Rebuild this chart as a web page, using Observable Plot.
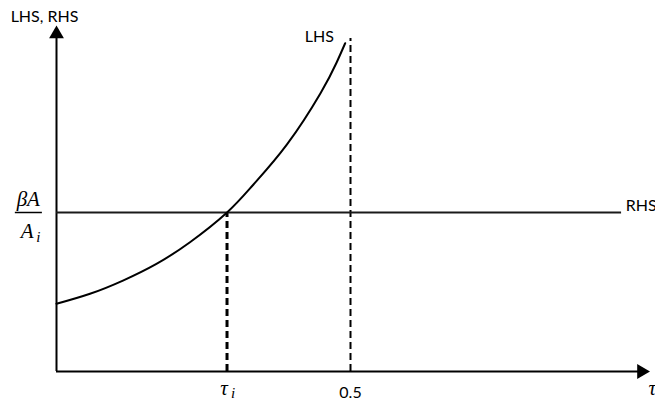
<!DOCTYPE html>
<html>
<head>
<meta charset="utf-8">
<script src="https://cdn.jsdelivr.net/npm/d3@7"></script>
<script src="https://cdn.jsdelivr.net/npm/@observablehq/plot@0.6"></script>
<style>
  html, body { margin: 0; padding: 0; background: #fff; overflow: hidden; }
</style>
</head>
<body>
<div id="chart"></div>
<script>
// LHS curve (tax rate τ on x, value on y); RHS is the constant βA/A_i
const lhsTau = [0, 0.057, 0.113, 0.170, 0.227, 0.29, 0.335, 0.392, 0.449, 0.476, 0.491];
const lhsValue = [0.426, 0.489, 0.572, 0.677, 0.813, 1.0, 1.176, 1.428, 1.750, 1.940, 2.065];
const rhsLevel = 1;
const rhsEnd = 0.961;
const tauI = 0.29;
const tauMax = 0.5;
const xAxisEnd = 1.005;
const yAxisTop = 2.16;
const maxLineTop = 2.094;

const tickLabels = ["τ", "0.5"];
const tickSubscripts = ["i", ""];
const tickPositions = [tauI, tauMax];

const lhs = lhsTau.map((t, i) => ({t, v: lhsValue[i]}));
const ticks = tickPositions.map((x, i) => ({x, label: tickLabels[i], sub: tickSubscripts[i]}));
const mathTicks = ticks.filter(d => d.sub);
const plainTicks = ticks.filter(d => !d.sub);

const sans = "Lato, 'Open Sans', sans-serif";
const serif = "'Liberation Serif', 'DejaVu Serif', serif";

const plot = Plot.plot({
  width: 655,
  height: 402,
  marginLeft: 56,
  marginRight: 11,
  marginBottom: 31,
  marginTop: 21.2,
  x: {domain: [0, 1], axis: null},
  y: {domain: [0, 2.2], axis: null},
  style: {background: "#fff", overflow: "visible"},
  marks: [
    // axes
    Plot.ruleY([0], {x1: 0, x2: xAxisEnd - 0.012, stroke: "#000", strokeWidth: 2}),
    Plot.ruleX([0], {y1: 0, y2: yAxisTop - 0.04, stroke: "#000", strokeWidth: 2}),
    Plot.dot([{x: xAxisEnd, y: 0}], {x: "x", y: "y", symbol: "triangle", r: 5.5, fill: "#000", rotate: 90, dx: -6}),
    Plot.dot([{x: 0, y: yAxisTop}], {x: "x", y: "y", symbol: "triangle", r: 5.5, fill: "#000", dy: 6}),

    // dashed guides
    Plot.ruleX([tauI], {y1: 0, y2: rhsLevel, stroke: "#000", strokeWidth: 3, strokeDasharray: "7,4"}),
    Plot.ruleX([tauMax], {y1: 0, y2: maxLineTop, stroke: "#000", strokeWidth: 2, strokeDasharray: "7,4"}),

    // RHS constant
    Plot.ruleY([rhsLevel], {x1: 0, x2: rhsEnd, stroke: "#1a1a1a", strokeWidth: 2}),

    // LHS curve
    Plot.line(lhs, {x: "t", y: "v", curve: "natural", stroke: "#000", strokeWidth: 2}),

    // curve labels
    Plot.text(["LHS"], {x: 0.447, y: 2.107, text: d => d, fontFamily: sans, fontSize: 16, fill: "#000"}),
    Plot.text(["RHS"], {x: 0.968, y: 1.044, text: d => d, textAnchor: "start", fontFamily: sans, fontSize: 16, fill: "#000"}),
    Plot.text(["LHS, RHS"], {x: -0.078, y: 2.233, text: d => d, textAnchor: "start", fontFamily: sans, fontSize: 16, fill: "#000"}),

    // x tick labels
    Plot.text(plainTicks, {x: "x", y: 0, text: "label", dy: 21, fontFamily: sans, fontSize: 16, fill: "#000"}),
    Plot.text(mathTicks, {x: "x", y: 0, text: "label", dy: 17, dx: -3,
      fontFamily: serif, fontStyle: "italic", fontSize: 21, fill: "#000"}),
    Plot.text(mathTicks, {x: "x", y: 0, text: "sub", dy: 22, dx: 6,
      fontFamily: serif, fontStyle: "italic", fontSize: 15, fill: "#000"}),
    Plot.text(["τ"], {x: 1.007, y: 0, dy: 17, text: d => d, textAnchor: "start",
      fontFamily: serif, fontStyle: "italic", fontSize: 21, fill: "#000"}),

    // y label: βA / A_i
    Plot.text(["βA"], {x: -0.048, y: rhsLevel, dy: -13, text: d => d,
      fontFamily: serif, fontStyle: "italic", fontSize: 21, fill: "#000"}),
    Plot.ruleY([rhsLevel], {x1: -0.070, x2: -0.024, stroke: "#000", strokeWidth: 1.5}),
    Plot.text(["A"], {x: -0.050, y: rhsLevel, dy: 19, text: d => d,
      fontFamily: serif, fontStyle: "italic", fontSize: 21, fill: "#000"}),
    Plot.text(["i"], {x: -0.031, y: rhsLevel, dy: 25, text: d => d,
      fontFamily: serif, fontStyle: "italic", fontSize: 15, fill: "#000"})
  ]
});

document.getElementById("chart").appendChild(plot);
</script>
</body>
</html>
